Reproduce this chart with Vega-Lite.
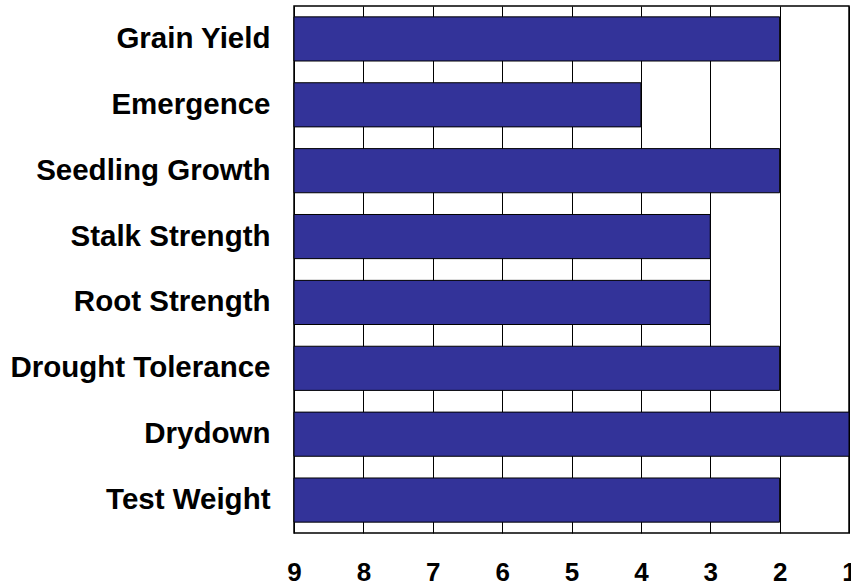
{
  "$schema": "https://vega.github.io/schema/vega-lite/v6.json",
  "width": 555,
  "height": 527,
  "autosize": {"type": "none"},
  "padding": {"left": 294, "top": 6, "right": 2, "bottom": 55},
  "background": "white",
  "config": {
    "view": {"stroke": "black", "strokeWidth": 1.5},
    "font": "Liberation Sans"
  },
  "data": {
    "values": [
      {"trait": "Grain Yield", "score": 2},
      {"trait": "Emergence", "score": 4},
      {"trait": "Seedling Growth", "score": 2},
      {"trait": "Stalk Strength", "score": 3},
      {"trait": "Root Strength", "score": 3},
      {"trait": "Drought Tolerance", "score": 2},
      {"trait": "Drydown", "score": 1},
      {"trait": "Test Weight", "score": 2}
    ]
  },
  "mark": {"type": "bar", "color": "#333399", "stroke": "black", "strokeWidth": 1},
  "encoding": {
    "y": {
      "field": "trait",
      "type": "nominal",
      "sort": null,
      "title": null,
      "scale": {"paddingInner": 0.33, "paddingOuter": 0.165},
      "axis": {
        "ticks": false,
        "tickSize": 0,
        "domain": false,
        "labelPadding": 24,
        "labelFontSize": 29.5,
        "labelFontWeight": "bold",
        "labelColor": "black",
        "labelLimit": 400
      }
    },
    "x": {
      "field": "score",
      "type": "quantitative",
      "title": null,
      "scale": {"domain": [1, 9], "reverse": true, "nice": false, "zero": false},
      "axis": {
        "values": [1, 2, 3, 4, 5, 6, 7, 8, 9],
        "format": "d",
        "ticks": false,
        "tickSize": 0,
        "domain": false,
        "grid": true,
        "gridColor": "black",
        "gridOpacity": 1,
        "gridWidth": 1,
        "labelBaseline": "alphabetic",
        "labelPadding": 47,
        "labelFontSize": 26,
        "labelFontWeight": "bold",
        "labelColor": "black",
        "labelFlush": false,
        "labelOverlap": false
      }
    },
    "x2": {"datum": 9}
  }
}
